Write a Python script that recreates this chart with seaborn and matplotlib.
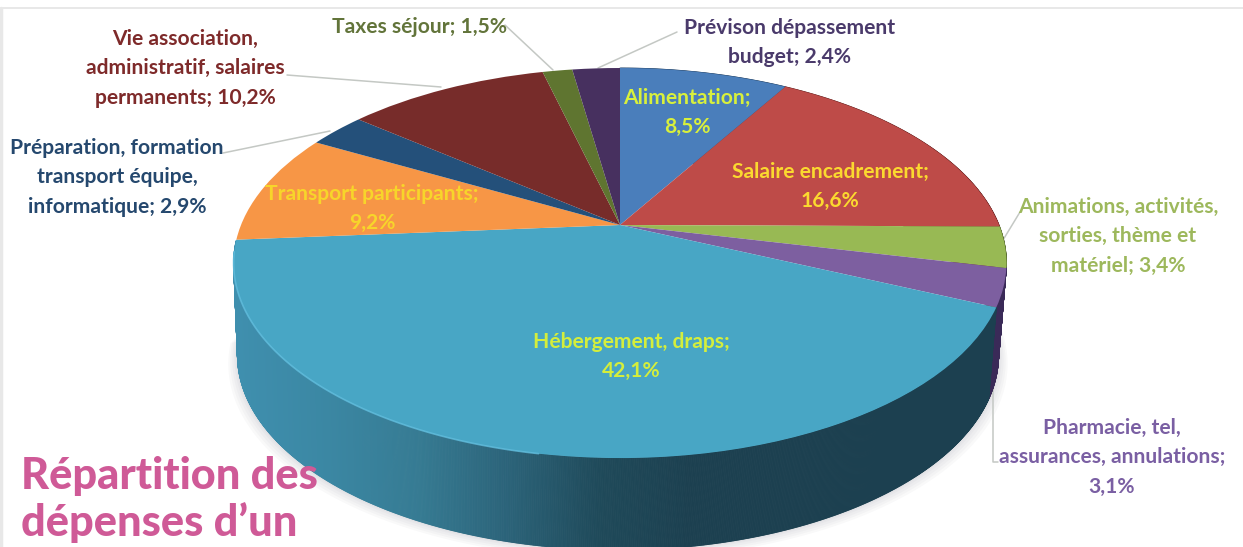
import numpy as np
import matplotlib
matplotlib.use("Agg")
import matplotlib.pyplot as plt
from matplotlib.collections import PolyCollection
from matplotlib.transforms import Transform
import seaborn as sns

# ---------- data ----------
categories = ["Alimentation", "Salaire encadrement", "Animations, activités, sorties, thème et matériel",
              "Pharmacie, tel, assurances, annulations", "Hébergement, draps", "Transport participants",
              "Préparation, formation transport équipe, informatique",
              "Vie association, administratif, salaires permanents", "Taxes séjour", "Prévison dépassement budget"]
values = [8.5, 16.6, 3.4, 3.1, 42.1, 9.2, 2.9, 10.2, 1.5, 2.4]
colors = ["#4a7ebb", "#be4b48", "#98b954", "#7d5fa0", "#48a6c5", "#f79646", "#24507a", "#772c2a", "#5f7530", "#47305f"]
side_colors = ["#2c4c70", "#722d2b", "#5b6f32", "#3a2a58", None, None, None, None, None, None]
hebergement_side = ["#3f8fae", "#3b87a3", "#367b93", "#2b6379", "#1f4a5a", "#1c4050"]

label_lines = [["Alimentation;", "8,5%"], ["Salaire encadrement;", "16,6%"],
               ["Animations, activités,", "sorties, thème et", "matériel; 3,4%"],
               ["Pharmacie, tel,", "assurances, annulations;", "3,1%"],
               ["Hébergement, draps;", "42,1%"], ["Transport participants;", "9,2%"],
               ["Préparation, formation", "transport équipe,", "informatique; 2,9%"],
               ["Vie association,", "administratif, salaires", "permanents; 10,2%"],
               ["Taxes séjour; 1,5%"], ["Prévison dépassement", "budget; 2,4%"]]
label_colors = ["#d8f03c", "#fbd92f", "#9db85c", "#7a5fa3", "#d4ee3c", "#f7d52a", "#25486e", "#7e2a2a", "#62743a", "#4a3a6b"]
label_xy = [(687, 98), (830, 172), (1118, 207), (1112, 428), (631, 342), (372, 194),
            (117, 148), (185, 39), (420, 27), (790, 28)]
title_lines = ["Répartition des", "dépenses d’un"]
leaders = [[(505, 25), (553, 70)], [(677, 32), (598, 68)], [(287, 75), (441, 87)],
           [(223, 153), (330, 131)], [(1020, 212), (1003, 240)],
           [(993, 340), (993, 462), (998, 462)]]

# ---------- geometry of the tilted disc ----------
CX, CY, SX, SY, K = 620.0, 225.0, 379.0, 187.6, 0.195
DEPTH = 92.0


def project(x, y):
    d = 1 + K * y
    return CX + SX * x / d, CY - SY * y / d


class Tilt(Transform):
    input_dims = output_dims = 2
    is_separable = False
    has_inverse = False

    def transform_non_affine(self, values):
        v = np.asarray(values, dtype=float)
        px, py = project(v[:, 0], v[:, 1])
        return np.column_stack([px, py])


def rim(theta):
    """theta in degrees, clockwise from twelve o'clock."""
    t = np.radians(theta)
    return project(np.sin(t), np.cos(t))


def lower_rim(theta):
    x, y = rim(theta)
    return CX - 2 + (x - CX) * 0.985, y + DEPTH


sns.set_theme(style="white")
plt.rcParams["font.family"] = ["Lato", "DejaVu Sans"]

fig = plt.figure(figsize=(12.43, 5.47), dpi=100, facecolor="white")
ax = fig.add_axes([0, 0, 1, 1])

wedges, _ = ax.pie(values, colors=colors, startangle=90, counterclock=False, radius=1.0)
tilt = Tilt() + ax.transData
for w in wedges:
    w.set_transform(tilt)
    w.set_zorder(5)
    w.set_linewidth(0)

ax.set_aspect("auto")
ax.set_xlim(0, 1243)
ax.set_ylim(547, 0)
ax.axis("off")

# soft shadow under the side
th_all = np.linspace(90, 265, 200)
bx, by = lower_rim(th_all)
for i, grow in enumerate([9, 7, 5, 3, 1.5]):
    sx = CX + (bx - CX) * (1 + grow / 380)
    sy = by + grow
    ax.fill(np.r_[sx, CX], np.r_[sy, 300], color="#8a8a9a", alpha=0.05, lw=0, zorder=1)

# side of the disc
ramp = sns.blend_palette(hebergement_side, 256)
polys, facecols = [], []
edges = np.cumsum([0] + values) * 3.6
for i in range(5):
    n = max(2, int((edges[i + 1] - edges[i]) * 6))
    th = np.linspace(edges[i], edges[i + 1], n)
    tx, ty = rim(th)
    lx, ly = lower_rim(th)
    for j in range(n - 1):
        polys.append([(tx[j], ty[j]), (tx[j + 1], ty[j + 1]), (lx[j + 1], ly[j + 1]), (lx[j], ly[j])])
        if side_colors[i] is None:
            f = np.clip(((tx[j] + lx[j]) / 2 - 237) / (690 - 237), 0, 0.999)
            facecols.append(ramp[int(f * 256)])
        else:
            facecols.append(side_colors[i])
ax.add_collection(PolyCollection(polys, facecolors=facecols, edgecolors=facecols, linewidths=0.6, zorder=2))

# light rim on the lit part of the front edge
hl = np.linspace(190, 262, 150)
hx, hy = rim(hl)
ax.plot(hx, hy, color="#62bede", lw=1.2, alpha=0.8, zorder=6)

# leader lines
for pts in leaders:
    p = np.array(pts)
    ax.plot(p[:, 0], p[:, 1], color="#c4c8c4", lw=1.1, zorder=1.5)

# labels
LINE = 29.3
for lines, col, (x, y) in zip(label_lines, label_colors, label_xy):
    for k, s in enumerate(lines):
        ax.text(x, y + k * LINE, s, color=col, fontsize=15.1, fontweight="bold",
                ha="center", va="center", zorder=8)

# title fragment
for k, s in enumerate(title_lines):
    ax.text(21, 489 + k * 47, s, color="#cf5a97", fontsize=31.2, fontweight="black",
            ha="left", va="baseline", zorder=9)

# scan frame
ax.plot([0, 1243], [7.5, 7.5], color="#e4e4e4", lw=1.2, zorder=0)
ax.plot([1.5, 1.5], [7.5, 547], color="#e8e8e8", lw=2.5, zorder=0)

fig.savefig("out.png", dpi=100, facecolor="white")
